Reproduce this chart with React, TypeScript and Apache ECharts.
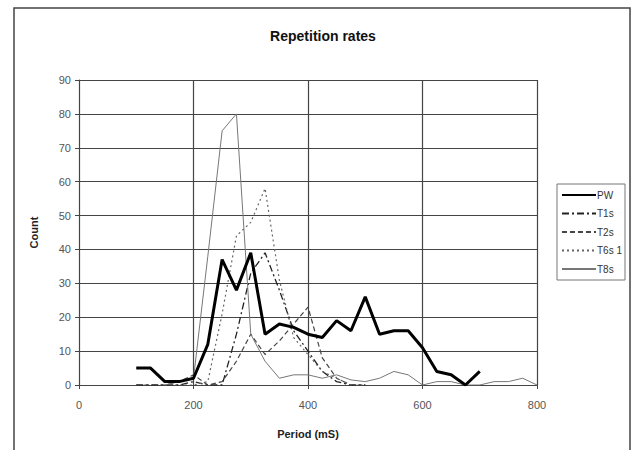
import React, { useEffect, useRef } from "react";
import * as echarts from "echarts";

const periods = [100, 125, 150, 175, 200, 225, 250, 275, 300, 325, 350, 375, 400, 425, 450, 475, 500, 525, 550, 575, 600, 625, 650, 675, 700, 725, 750, 775, 800];

const pw = [5, 5, 1, 1, 2, 12, 37, 28, 39, 15, 18, 17, 15, 14, 19, 16, 26, 15, 16, 16, 11, 4, 3, 0, 4, null, null, null, null];
const t1s = [0, 0, 0, 0, 1, 0, 0, 15, 33, 39, 28, 16, 10, 4, 1, 0, 0, null, null, null, null, null, null, null, null, null, null, null, null];
const t2s = [0, 0, 0, 1, 3, 0, 1, 7, 15, 9, 13, 18, 23, 8, 2, 0, 0, null, null, null, null, null, null, null, null, null, null, null, null];
const t6s1 = [null, null, 0, 0, 0, 1, 21, 44, 48, 58, 31, 14, 9, 4, 2, 0, 0, null, null, null, null, null, null, null, null, null, null, null, null];
const t8s = [null, null, 0, 1, 2, 38, 75, 80, 15, 7, 2, 3, 3, 2, 3, 1.5, 1, 2, 4, 3, 0, 1, 1, 0, 0, 1, 1, 2, 0];

const seriesNames = ["PW", "T1s", "T2s", "T6s 1", "T8s"];
const xTicks = { min: 0, max: 800, interval: 200 };
const yTicks = { min: 0, max: 90, interval: 10 };

const pairs = (vals: (number | null)[]) =>
  periods.map((p, i) => [p, vals[i]]).filter((d) => d[1] !== null);

export default function App() {
  const ref = useRef<HTMLDivElement>(null);
  useEffect(() => {
    if (!ref.current) return;
    const chart = echarts.init(ref.current, null, { renderer: "svg" });
    const font = "'Liberation Sans', Arial, sans-serif";
    chart.setOption({
      animation: false,
      backgroundColor: "#fff",
      title: {
        text: "Repetition rates",
        left: 318,
        top: 24,
        textAlign: "center",
        textStyle: { fontFamily: font, fontSize: 14, fontWeight: "bold", color: "#111" },
      },
      graphic: [
        {
          type: "rect",
          shape: { x: 14, y: 8, width: 616, height: 470 },
          style: { fill: "none", stroke: "#444", lineWidth: 1.5 },
          silent: true,
          z: -1,
        },
      ],
      legend: {
        orient: "vertical",
        left: 557,
        top: 184,
        itemWidth: 34,
        itemHeight: 10,
        itemGap: 8.5,
        padding: [6, 3, 6, 4],
        borderColor: "#777",
        borderWidth: 1,
        itemStyle: { opacity: 0 },
        textStyle: { fontFamily: font, fontSize: 10, color: "#333", padding: [0, 0, 0, -4] },
        data: seriesNames,
      },
      grid: { left: 79, right: 95, top: 80, bottom: 65 },
      xAxis: {
        type: "value",
        ...xTicks,
        name: "Period (mS)",
        nameLocation: "middle",
        nameGap: 43,
        nameTextStyle: { fontFamily: font, fontSize: 11, fontWeight: "bold", color: "#222" },
        axisLine: { show: true, lineStyle: { color: "#444", width: 1 } },
        axisTick: { show: true, length: 4, lineStyle: { color: "#444" } },
        axisLabel: { fontFamily: font, fontSize: 11, color: "#555", margin: 14 },
        splitLine: { show: true, lineStyle: { color: "#444", width: 1.2 } },
      },
      yAxis: {
        type: "value",
        ...yTicks,
        name: "Count",
        nameLocation: "middle",
        nameGap: 40,
        nameTextStyle: { fontFamily: font, fontSize: 11, fontWeight: "bold", color: "#222" },
        axisLine: { show: true, lineStyle: { color: "#444", width: 1 } },
        axisTick: { show: true, length: 4, lineStyle: { color: "#444" } },
        axisLabel: { fontFamily: font, fontSize: 11, color: "#555", margin: 8 },
        splitLine: { show: true, lineStyle: { color: "#444", width: 1.2 } },
      },
      series: [
        {
          name: "PW",
          type: "line",
          symbol: "none",
          data: pairs(pw),
          lineStyle: { color: "#000", width: 3 },
          itemStyle: { color: "#000" },
          z: 5,
        },
        {
          name: "T1s",
          type: "line",
          symbol: "none",
          data: pairs(t1s),
          lineStyle: { color: "#222", width: 1.3, type: [7, 3, 2, 3] },
          itemStyle: { color: "#222" },
        },
        {
          name: "T2s",
          type: "line",
          symbol: "none",
          data: pairs(t2s),
          lineStyle: { color: "#444", width: 1.2, type: [5, 3] },
          itemStyle: { color: "#444" },
        },
        {
          name: "T6s 1",
          type: "line",
          symbol: "none",
          data: pairs(t6s1),
          lineStyle: { color: "#666", width: 1.2, type: [2, 3] },
          itemStyle: { color: "#666" },
        },
        {
          name: "T8s",
          type: "line",
          symbol: "none",
          data: pairs(t8s),
          lineStyle: { color: "#777", width: 1 },
          itemStyle: { color: "#777" },
        },
      ],
    });
    return () => chart.dispose();
  }, []);
  return (
    <div
      ref={ref}
      style={{ position: "fixed", left: 0, top: 0, width: 632, height: 450 }}
    />
  );
}
